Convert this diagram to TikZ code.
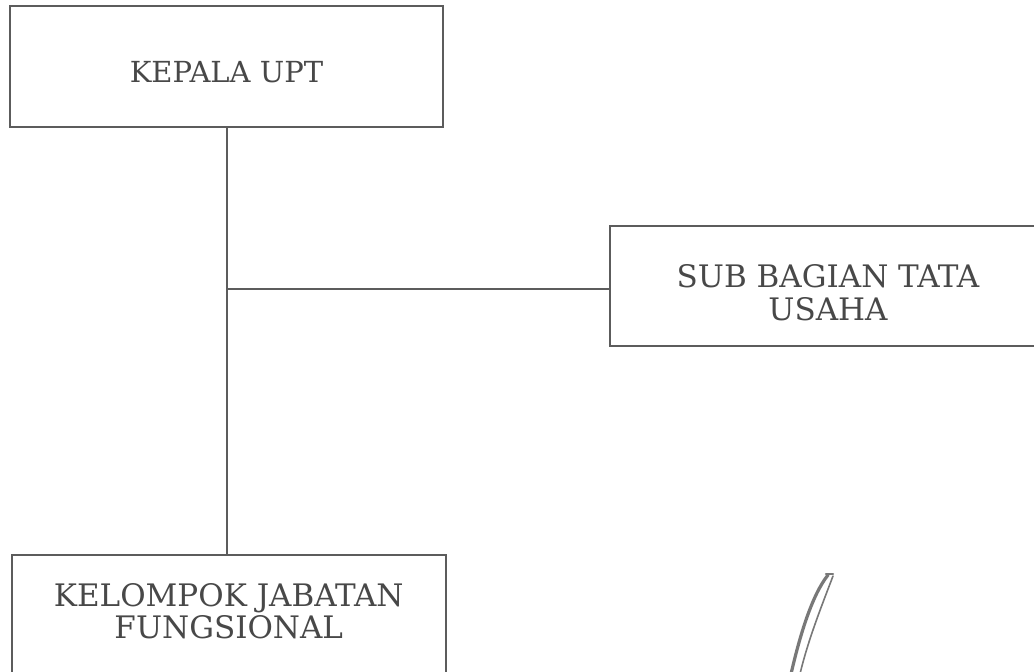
\documentclass[tikz,border=0pt]{standalone}
\usepackage{fontspec}
\setmainfont{DejaVu Serif}
\begin{document}
\begin{tikzpicture}[x=1pt,y=-1pt,
  ink/.style={draw={rgb,255:red,92;green,92;blue,92}, line width=2pt},
  orgbox/.style={ink, rectangle, inner sep=0pt},
  boxtext/.style={inner sep=0pt, align=center, text depth=0pt,
    text={rgb,255:red,72;green,72;blue,72}, font=\fontsize{31}{32.5}\selectfont},
  conn/.style={ink, line width=1.8pt},
  sig/.style={draw={rgb,255:red,120;green,120;blue,120}, line cap=round}]
\useasboundingbox (0,0) rectangle (1034,672);
\clip (0,0) rectangle (1034,672);
\fill[white] (0,0) rectangle (1034,672);

\node[orgbox, minimum width=433pt, minimum height=121pt] (kepala) at (226.5,66.5) {};
\node[orgbox, minimum width=436pt, minimum height=120pt] (sub) at (828,285.5) {};
\node[orgbox, minimum width=434.5pt, minimum height=122pt] (kelompok) at (228.75,616) {};

\node[boxtext, font=\fontsize{29}{30}\selectfont] (kepalatext) at (226.5,72) {KEPALA UPT};
\node[boxtext] (subtext) at (828,292.5) {SUB BAGIAN TATA\\USAHA};
\node[boxtext] (kelompoktext) at (228.75,611) {KELOMPOK JABATAN\\FUNGSIONAL};

\coordinate (j) at (227,289);
\draw[conn] (kepala.south -| j) -- (kelompok.north -| j);
\draw[conn] (j) -- (sub.west |- j);

% signature fragment
\draw[sig, line width=3.2pt] (791,674) .. controls (800,635) and (812,595) .. (828,575);
\draw[sig, line width=1.6pt] (833,576) .. controls (822,605) and (808,640) .. (800,674);
\draw[sig, line width=2.2pt] (826,574) -- (833,574);
\end{tikzpicture}
\end{document}
